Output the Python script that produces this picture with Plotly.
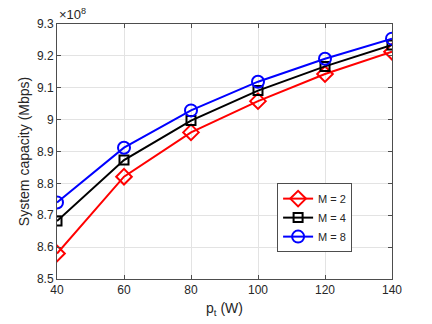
import plotly.graph_objects as go

# transmit power (W)
pt = [40, 60, 80, 100, 120, 140]

# system capacity, in units of 1e8 Mbps
cap_m2 = [8.58, 8.821, 8.96, 9.058, 9.143, 9.213]
cap_m4 = [8.682, 8.873, 8.997, 9.091, 9.167, 9.234]
cap_m8 = [8.74, 8.912, 9.029, 9.119, 9.191, 9.254]

series = [
    ("M = 2", cap_m2, "#ff0000", "diamond-open", 12),
    ("M = 4", cap_m4, "#000000", "square-open", 9),
    ("M = 8", cap_m8, "#0000ff", "circle-open", 12),
]

fig = go.Figure()
for name, vals, color, symbol, size in series:
    fig.add_trace(go.Scatter(
        x=pt, y=vals, name=name, mode="lines+markers",
        line=dict(color=color, width=2),
        marker=dict(symbol=symbol, size=size, color=color, line=dict(width=2, color=color)),
    ))

axis_style = dict(
    showline=True, linecolor="#4d4d4d", linewidth=1, mirror="ticks",
    ticks="inside", ticklen=4, tickcolor="#4d4d4d",
    showgrid=True, gridcolor="#e3e3e3", gridwidth=1,
    zeroline=False, tickfont=dict(size=12, color="#262626"),
)

fig.update_xaxes(range=[40, 140], tickvals=[40, 60, 80, 100, 120, 140],
                 title=dict(text="p<sub>t</sub> (W)", font=dict(size=14, color="#262626"), standoff=6),
                 **axis_style)
fig.update_yaxes(range=[8.5, 9.3], tickvals=[8.5, 8.6, 8.7, 8.8, 8.9, 9.0, 9.1, 9.2, 9.3],
                 ticktext=["8.5", "8.6", "8.7", "8.8", "8.9", "9", "9.1", "9.2", "9.3"],
                 title=dict(text="System capacity (Mbps)", font=dict(size=14, color="#262626"), standoff=4),
                 **axis_style)

fig.add_annotation(x=0, y=1, xref="paper", yref="paper", xanchor="left", yanchor="bottom",
                   text="×10<sup>8</sup>", showarrow=False, font=dict(size=13, color="#262626"))

fig.update_layout(
    width=432, height=324,
    margin=dict(l=57, r=40, t=24, b=45),
    plot_bgcolor="white", paper_bgcolor="white",
    font=dict(family="Liberation Sans, Arial, sans-serif"),
    legend=dict(x=0.657, y=0.376, xanchor="left", yanchor="top",
                bgcolor="white", bordercolor="#4d4d4d", borderwidth=1,
                font=dict(size=11, color="#262626"), tracegroupgap=0,
                itemwidth=30),
)

# drop the browser's default page margin so the figure sits at the window origin
fig.write_html("out.html", config={"displayModeBar": False},
               post_script="document.body.style.margin = '0';")
